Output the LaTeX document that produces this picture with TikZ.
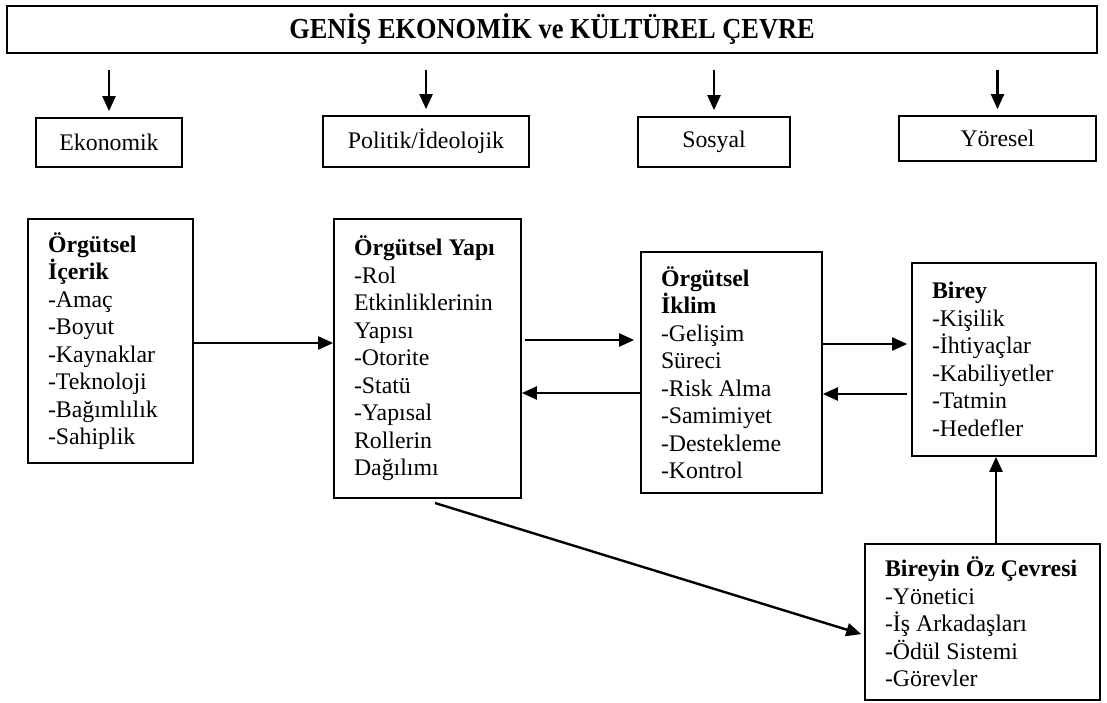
\documentclass[tikz,border=0pt]{standalone}
\usepackage{fontspec}
\setmainfont{Liberation Serif}
\usetikzlibrary{arrows.meta}

\begin{document}
\begin{tikzpicture}[x=1pt,y=-1pt,
    box/.style={draw,line width=1.7pt,align=flush left,inner xsep=20pt,inner ysep=0pt,
      font=\fontsize{23.8}{27.5}\selectfont},
    topbox/.style={draw,line width=1.7pt,inner sep=0pt,font=\fontsize{23.8}{27.5}\selectfont},
    arr/.style={line width=2.4pt,-{Triangle[length=15pt,width=13pt]}}]
    \useasboundingbox (0,0) rectangle (1107,702);
    % cevre
    \node[draw,line width=2pt,minimum width=1090pt,minimum height=47pt,inner sep=0pt,
      font=\fontsize{29}{32}\selectfont\bfseries] (genis) at (552,29.5)
      {\scalebox{0.91}[1]{GENİŞ EKONOMİK ve KÜLTÜREL ÇEVRE}};
    \node[topbox,minimum width=146pt,minimum height=49pt] (ekonomik) at (109,142.5) {Ekonomik};
    \node[topbox,minimum width=206pt,minimum height=51pt] (politik) at (426,141.5) {Politik/İdeolojik};
    \node[topbox,minimum width=152pt,minimum height=50pt] (sosyal) at (714,142) {Sosyal};
    \node[topbox,minimum width=197pt,minimum height=45pt] (yoresel) at (997.5,138.5) {Yöresel};
    \draw[arr] (ekonomik.north |- 0,70) -- ([yshift=6pt]ekonomik.north);
    \draw[arr] (politik.north |- 0,70) -- ([yshift=6pt]politik.north);
    \draw[arr] (sosyal.north |- 0,70) -- ([yshift=6pt]sosyal.north);
    \draw[arr] (yoresel.north |- 0,70) -- ([yshift=6pt]yoresel.north);

    % orgut
    \node[box,text width=125pt,minimum height=244pt] (icerik) at (110.5,341)
      {\textbf{Örgütsel}\\\textbf{İçerik}\\-Amaç\\-Boyut\\-Kaynaklar\\-Teknoloji\\-Bağımlılık\\-Sahiplik};
    \node[box,text width=147pt,minimum height=279pt] (yapi) at (427.5,358.5)
      {\textbf{Örgütsel Yapı}\\-Rol\\Etkinliklerinin\\Yapısı\\-Otorite\\-Statü\\-Yapısal\\Rollerin\\Dağılımı};
    \node[box,text width=141pt,minimum height=241pt] (iklim) at (731.5,372.5)
      {\textbf{Örgütsel}\\\textbf{İklim}\\-Gelişim\\Süreci\\-Risk Alma\\-Samimiyet\\-Destekleme\\-Kontrol};
    \node[box,text width=144pt,minimum height=193pt] (birey) at (1004,359.5)
      {\textbf{Birey}\\-Kişilik\\-İhtiyaçlar\\-Kabiliyetler\\-Tatmin\\-Hedefler};
    \node[box,text width=195pt,minimum height=156pt] (ozcevre) at (982.5,622)
      {\textbf{Bireyin Öz Çevresi}\\-Yönetici\\-İş Arkadaşları\\-Ödül Sistemi\\-Görevler};
    \coordinate (diag) at (435,503);

    \draw[arr] (icerik.east |- 0,343) -- (yapi.west |- 0,343);
    \draw[arr,shorten <=3pt,shorten >=6pt] (yapi.east |- 0,340) -- (iklim.west |- 0,340);
    \draw[arr] (iklim.west |- 0,393) -- (yapi.east |- 0,393);
    \draw[arr,shorten >=4pt] (iklim.east |- 0,344) -- (birey.west |- 0,344);
    \draw[arr,shorten <=4pt] (birey.west |- 0,394) -- (iklim.east |- 0,394);
    \draw[arr] (ozcevre.north -| 996,0) -- (birey.south -| 996,0);
    \draw[arr,shorten >=3pt] (diag) -- (ozcevre.west |- 0,635);
\end{tikzpicture}
\end{document}
